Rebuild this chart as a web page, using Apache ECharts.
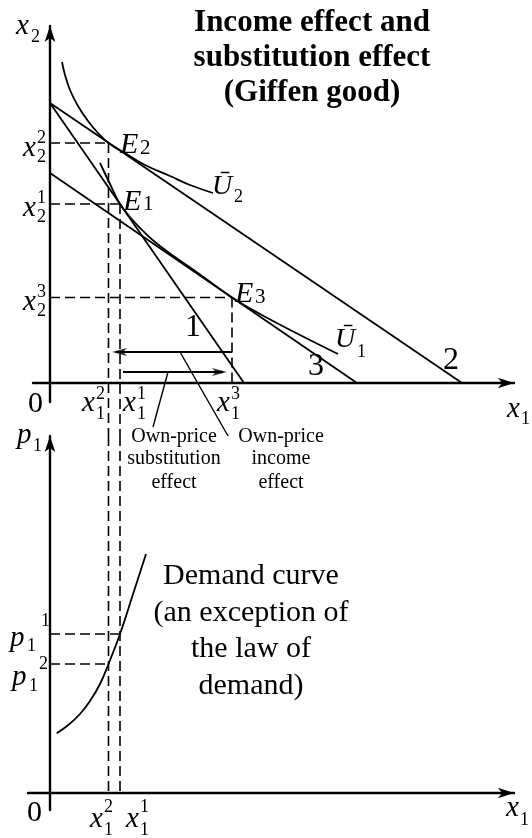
<!DOCTYPE html>
<html>
<head>
<meta charset="utf-8">
<title>Giffen good</title>
<script src="https://cdn.jsdelivr.net/npm/echarts/dist/echarts.min.js"></script>
<style>
  html, body { margin: 0; padding: 0; background: #fff; }
  #chart { width: 532px; height: 838px; }
</style>
</head>
<body>
<div id="chart"></div>
<script>
// ---- data (top diagram: x1 / x2, bottom diagram: x1 / p1) ----
const budget1 = [[0, 28], [19.4, 0]]   // original budget line "1"
const budget2 = [[0, 28], [41.2, 0]]   // after price fall "2"
const budget3 = [[0, 21], [30.7, 0]]   // compensated line "3"

// indifference curves
const u2 = [[1.2, 32.1], [1.5, 30.8], [2.0, 29.3], [2.8, 27.7], [3.8, 26.2], [4.8, 25.0],
  [5.85, 24.0], [7.5, 23.0], [9.5, 21.8], [12.0, 20.7], [14.0, 19.8], [16.3, 19.0]]
const u1 = [[5.0, 22.0], [6.0, 19.9], [7.0, 17.9], [8.0, 16.6], [9.0, 15.5], [10.5, 14.1],
  [12.5, 12.6], [15.0, 10.85], [18.2, 8.55], [21.0, 6.9], [25.0, 4.8], [28.8, 2.9]]

// equilibrium points
const E1 = [7.0, 17.9]
const E2 = [5.85, 24.0]
const E3 = [18.2, 8.55]

// effect arrows and the lines pointing to their captions
const incomeArrow = [[18.2, 3.1], [6.6, 3.1]]
const substArrow = [[7.3, 1.1], [17.3, 1.1]]
const incomeTip = [6.2, 3.1]
const substTip = [17.7, 1.1]
const substPointer = [[11.8, 1.1], [10.3, -4.4]]
const incomePointer = [[13.0, 3.1], [17.8, -5.3]]

// demand curve (bottom)
const demand = [[0.67, 5.97], [1.83, 6.8], [3.0, 7.9], [4.0, 9.2], [5.0, 10.9],
  [5.85, 12.9], [7.0, 15.9], [8.33, 19.97], [9.6, 23.9]]
const p1 = [15.9, 12.9] // p1^1, p1^2

const TOP = 0
const BOTTOM = 1

function line(grid, data, style, extra) {
  return Object.assign({
    type: 'line',
    xAxisIndex: grid,
    yAxisIndex: grid,
    data: data,
    symbol: 'none',
    silent: true,
    animation: false,
    lineStyle: Object.assign({ color: '#000', width: 1.8 }, style)
  }, extra || {})
}

const dash = { type: [10, 5], width: 1.6 }

function head(grid, tip, back, rotate) {
  return {
    type: 'scatter',
    xAxisIndex: grid,
    yAxisIndex: grid,
    data: [[tip[0] + back, tip[1]]],
    symbol: 'path://M0,0L16,5L0,10L4,5Z',
    symbolSize: [15, 8],
    symbolRotate: rotate,
    itemStyle: { color: '#000' },
    silent: true,
    animation: false
  }
}

function axis(min, max) {
  return {
    type: 'value',
    min: min,
    max: max,
    axisLine: {
      show: true,
      onZero: true,
      symbol: ['none', 'arrow'],
      symbolSize: [8, 16],
      lineStyle: { color: '#000', width: 2.4 }
    },
    axisTick: { show: false },
    axisLabel: { show: false },
    splitLine: { show: false }
  }
}

// ---- texts: [text, left, baseline, size, italic] ----
const labels = [
  ['x', 16, 35, 29, 1], ['2', 31, 43, 18],
  ['x', 23, 157, 29, 1], ['2', 37, 144, 18], ['2', 37, 163, 18],
  ['x', 23, 217, 29, 1], ['1', 37, 204, 18], ['2', 37, 223, 18],
  ['x', 23, 311, 29, 1], ['3', 37, 298, 18], ['2', 37, 317, 18],
  ['0', 28, 413, 30],
  ['x', 82, 412, 29, 1], ['2', 96, 400, 18], ['1', 96, 420, 18],
  ['x', 123, 412, 29, 1], ['1', 137, 400, 18], ['1', 137, 420, 18],
  ['x', 217, 412, 29, 1], ['3', 231, 400, 18], ['1', 231, 420, 18],
  ['x', 507, 418, 29, 1], ['1', 521, 425, 18],
  ['E', 120, 154, 30, 1], ['2', 140, 155, 21],
  ['E', 123, 211, 30, 1], ['1', 143, 211, 21],
  ['E', 235, 303, 30, 1], ['3', 255, 304, 21],
  ['Ū', 212, 195, 28, 1], ['2', 234, 203, 18],
  ['Ū', 335, 348, 28, 1], ['1', 357, 358, 18],
  ['1', 185, 337, 32], ['2', 443, 370, 32], ['3', 308, 376, 32],
  ['p', 17, 444, 29, 1], ['1', 33, 452, 18],
  ['p', 10, 647, 29, 1], ['1', 27, 652, 18], ['1', 41, 627, 18],
  ['p', 12, 686, 29, 1], ['1', 29, 692, 18], ['2', 39, 670, 18],
  ['0', 27, 822, 30],
  ['x', 90, 828, 29, 1], ['2', 104, 813, 18], ['1', 104, 836, 18],
  ['x', 126, 828, 29, 1], ['1', 140, 813, 18], ['1', 140, 836, 18],
  ['x', 506, 817, 29, 1], ['1', 520, 826, 18]
]

// centred texts: [text, centre, baseline, size, weight]
const centred = [
  ['Income effect and', 312, 32, 31, 'bold'],
  ['substitution effect', 312, 67, 31, 'bold'],
  ['(Giffen good)', 312, 102, 31, 'bold'],
  ['Own-price', 174, 443, 20], ['substitution', 174, 465, 20], ['effect', 174, 489, 20],
  ['Own-price', 281, 443, 20], ['income', 281, 465, 20], ['effect', 281, 489, 20],
  ['Demand curve', 251, 585, 30], ['(an exception of', 251, 622, 30],
  ['the law of', 251, 658, 30], ['demand)', 251, 695, 30]
]

function text(s, x, base, size, font, align) {
  return {
    type: 'text',
    x: x,
    y: base - 0.3 * size,
    z: 100,
    silent: true,
    style: {
      text: s,
      fill: '#000',
      font: font + ' ' + size + 'px "Liberation Serif", "Times New Roman", serif',
      textAlign: align,
      align: align,
      textVerticalAlign: 'middle',
      verticalAlign: 'middle'
    }
  }
}

const graphic = []
labels.forEach(l => graphic.push(text(l[0], l[1], l[2], l[3], l[4] ? 'italic' : 'normal', 'left')))
centred.forEach(l => graphic.push(text(l[0], l[1], l[2], l[3], l[4] || 'normal', 'center')))

const chart = echarts.init(document.getElementById('chart'), null, { renderer: 'canvas' })

chart.setOption({
  backgroundColor: '#fff',
  animation: false,
  grid: [
    { left: 33, top: 26, width: 481, height: 376 },
    { left: 28, top: 436, width: 486, height: 374 }
  ],
  xAxis: [
    Object.assign(axis(-1.7, 46.4), { gridIndex: 0 }),
    Object.assign(axis(-2.2, 46.4), { gridIndex: 1 })
  ],
  yAxis: [
    Object.assign(axis(-1.9, 35.7), { gridIndex: 0 }),
    Object.assign(axis(-1.7, 35.7), { gridIndex: 1 })
  ],
  series: [
    // budget lines
    line(TOP, budget1),
    line(TOP, budget2),
    line(TOP, budget3),
    // indifference curves
    line(TOP, u2, {}, { smooth: 0.4 }),
    line(TOP, u1, {}, { smooth: 0.4 }),
    // dashed guides to the axes
    line(TOP, [[0, E2[1]], E2], dash),
    line(TOP, [[0, E1[1]], E1], dash),
    line(TOP, [[0, E3[1]], E3], dash),
    line(TOP, [E3, [E3[0], 0]], dash),
    line(TOP, [E2, [E2[0], -5.3]], dash, { clip: false }),
    line(TOP, [E1, [E1[0], -5.3]], dash, { clip: false }),
    // effect arrows
    line(TOP, incomeArrow, { width: 2.2 }),
    line(TOP, substArrow, { width: 2.2 }),
    head(TOP, incomeTip, 0.75, 180),
    head(TOP, substTip, -0.75, 0),
    line(TOP, substPointer, { width: 1.4 }, { clip: false }),
    line(TOP, incomePointer, { width: 1.4 }, { clip: false }),
    // demand curve
    line(BOTTOM, demand, {}, { smooth: 0.4 }),
    line(BOTTOM, [[0, p1[0]], [E1[0], p1[0]]], dash),
    line(BOTTOM, [[0, p1[1]], [E2[0], p1[1]]], dash),
    line(BOTTOM, [[E2[0], 35.7], [E2[0], 0]], dash),
    line(BOTTOM, [[E1[0], 35.7], [E1[0], 0]], dash)
  ],
  graphic: graphic
})
</script>
</body>
</html>
